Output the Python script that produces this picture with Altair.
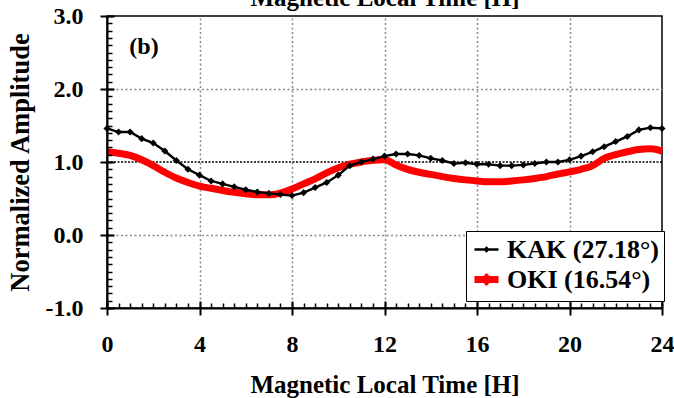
import altair as alt
import pandas as pd

FONT = "Liberation Serif"
KAK_LABEL = "KAK (27.18°)"
OKI_LABEL = "OKI (16.54°)"

hours = [0, 0.5, 1, 1.5, 2, 2.5, 3, 3.5, 4, 4.5, 5, 5.5, 6, 6.5, 7, 7.5, 8, 8.5,
         9, 9.5, 10, 10.5, 11, 11.5, 12, 12.5, 13, 13.5, 14, 14.5, 15, 15.5, 16,
         16.5, 17, 17.5, 18, 18.5, 19, 19.5, 20, 20.5, 21, 21.5, 22, 22.5, 23,
         23.5, 24]

kak = [1.46, 1.41, 1.41, 1.32, 1.26, 1.15, 1.02, 0.90, 0.82, 0.74, 0.70, 0.66,
       0.62, 0.59, 0.57, 0.555, 0.54, 0.58, 0.65, 0.72, 0.82, 0.95, 1.00, 1.04,
       1.08, 1.11, 1.11, 1.09, 1.05, 1.02, 0.98, 0.99, 0.97, 0.97, 0.95, 0.95,
       0.96, 0.98, 1.00, 1.00, 1.03, 1.08, 1.14, 1.21, 1.28, 1.35, 1.44, 1.47,
       1.46]

oki = [1.14, 1.12, 1.09, 1.03, 0.95, 0.86, 0.78, 0.72, 0.67, 0.64, 0.61, 0.585,
       0.565, 0.55, 0.55, 0.575, 0.63, 0.70, 0.77, 0.85, 0.92, 0.97, 1.00, 1.025,
       1.03, 0.96, 0.90, 0.86, 0.83, 0.80, 0.775, 0.755, 0.74, 0.73, 0.73, 0.74,
       0.755, 0.775, 0.80, 0.835, 0.865, 0.90, 0.95, 1.05, 1.10, 1.14, 1.17, 1.18,
       1.15]

x_major = [0, 4, 8, 12, 16, 20, 24]
x_grid = [4, 8, 12, 16, 20]
y_major = [-1, 0, 1, 2, 3]
y_grid = [0, 2]
ref_level = [1.0]
panel_label = ["(b)"]
panel_label_x = [1.6]
panel_label_y = [2.58]

x_minor = [i * 0.5 for i in range(49)]
y_minor = [round(-1 + i * 0.1, 1) for i in range(41)]

df_kak = pd.DataFrame({"mlt": hours, "amp": kak, "series": KAK_LABEL})
df_oki = pd.DataFrame({"mlt": hours, "amp": oki, "series": OKI_LABEL})
df_ref = pd.DataFrame({"y": ref_level})
df_lab = pd.DataFrame({"x": panel_label_x, "y": panel_label_y, "t": panel_label})

W, H = 555, 292

x_scale = alt.Scale(domain=[0, 24], nice=False, zero=False)
y_scale = alt.Scale(domain=[-1, 3], nice=False, zero=False)

legend = alt.Legend(
    title=None, orient="none", legendX=359, legendY=215, direction="vertical",
    labelFont=FONT, labelFontWeight=700, labelFontSize=26, labelColor="black",
    labelOffset=5, labelLimit=400, symbolSize=576, padding=5, rowPadding=0,
    strokeColor="black", fillColor="white", symbolOpacity=1,
    symbolType="M-1,0H1M0,-0.13L0.13,0L0,0.13L-0.13,0Z",
)

series_domain = [KAK_LABEL, OKI_LABEL]
color_enc = alt.Color(
    "series:N",
    scale=alt.Scale(domain=series_domain, range=["#000000", "#ff0000"]),
    legend=legend,
)
width_enc = alt.StrokeWidth(
    "series:N",
    scale=alt.Scale(domain=series_domain, range=[2.4, 7]),
    legend=legend,
)

x_axis_main = alt.Axis(
    orient="bottom", values=x_major, format="d", labelPadding=24, ticks=False,
    tickSize=0, domain=True, domainWidth=2, domainColor="black", grid=False,
    labelFlush=False, labelOverlap=False, labelFontSize=24,
    title="Magnetic Local Time [H]", titleFontSize=25, titleX=W / 2, titleY=76,
    titleBaseline="middle", titleAlign="center", zindex=1,
)
y_axis_main = alt.Axis(
    orient="left", values=y_major,
    labelExpr="(datum.value < 0 ? '-' : '') + format(abs(datum.value), '.1f')",
    labelPadding=24, ticks=False, tickSize=0, domain=True, domainWidth=2,
    domainColor="black", grid=False, labelFlush=False, labelOverlap=False,
    labelFontSize=24, title="Normalized Amplitude", titleFontSize=26.5,
    titleAngle=270, titleX=-87, titleY=H / 2, titleBaseline="middle",
    titleAlign="center", zindex=1,
)
x_axis_major = alt.Axis(
    orient="bottom", values=x_major, labels=False, domain=False, grid=False,
    ticks=True, tickSize=14, tickWidth=2, tickColor="black", offset=-7,
    title=None, zindex=1,
)
y_axis_major = alt.Axis(
    orient="left", values=y_major, labels=False, domain=False, grid=False,
    ticks=True, tickSize=14, tickWidth=2, tickColor="black", offset=-7,
    title=None, zindex=1,
)
x_axis_minor = alt.Axis(
    orient="bottom", values=x_minor, labels=False, domain=False, grid=False,
    ticks=True, tickSize=5, tickWidth=1.5, tickColor="black", offset=-5,
    title=None, zindex=1,
)
y_axis_minor = alt.Axis(
    orient="left", values=y_minor, labels=False, domain=False, grid=False,
    ticks=True, tickSize=5, tickWidth=1.5, tickColor="black", offset=-5,
    title=None, zindex=1,
)
x_axis_grid = alt.Axis(
    orient="top", values=x_grid, labels=False, ticks=False, domain=False,
    grid=True, gridColor="#8a8a8a", gridDash=[2, 2.5], gridWidth=1.5,
    title="Magnetic Local Time [H]", titleFontSize=25, titleX=W / 2, titleY=-11,
    titleBaseline="alphabetic", titleAlign="center",
)
y_axis_grid = alt.Axis(
    orient="left", values=y_grid, labels=False, ticks=False, domain=False,
    grid=True, gridColor="#8a8a8a", gridDash=[2, 2.5], gridWidth=1.5, title=None,
)

ref_layer = alt.Chart(df_ref).mark_rule(
    color="black", strokeDash=[2, 1.5], strokeWidth=1.5
).encode(y=alt.Y("y:Q", scale=y_scale, axis=None))

oki_layer = alt.Chart(df_oki).mark_line(interpolate="monotone").encode(
    x=alt.X("mlt:Q", scale=x_scale, axis=x_axis_main),
    y=alt.Y("amp:Q", scale=y_scale, axis=y_axis_main),
    color=color_enc,
    strokeWidth=width_enc,
)

kak_line = alt.Chart(df_kak).mark_line().encode(
    x=alt.X("mlt:Q", scale=x_scale, axis=x_axis_major),
    y=alt.Y("amp:Q", scale=y_scale, axis=y_axis_major),
    color=color_enc,
    strokeWidth=width_enc,
)

kak_pts = alt.Chart(df_kak).mark_point(
    shape="diamond", filled=True, size=50, opacity=1
).encode(
    x=alt.X("mlt:Q", scale=x_scale, axis=x_axis_minor),
    y=alt.Y("amp:Q", scale=y_scale, axis=y_axis_minor),
    color=alt.Color("series:N",
                    scale=alt.Scale(domain=series_domain, range=["#000000", "#ff0000"]),
                    legend=None),
)

label_layer = alt.Chart(df_lab).mark_text(
    font=FONT, fontWeight="bold", fontSize=24, align="center",
    baseline="middle", color="black"
).encode(
    x=alt.X("x:Q", scale=x_scale, axis=x_axis_grid),
    y=alt.Y("y:Q", scale=y_scale, axis=y_axis_grid),
    text="t:N",
)

chart = alt.layer(
    ref_layer, oki_layer, kak_line, kak_pts, label_layer
).resolve_axis(
    x="independent", y="independent"
).properties(
    width=W, height=H, autosize="none",
    padding={"left": 107, "top": 16, "right": 12, "bottom": 90},
    background="white",
).configure_view(
    stroke="black", strokeWidth=1.5
).configure_axis(
    labelFont=FONT, labelFontWeight="bold", labelColor="black",
    titleFont=FONT, titleFontWeight="bold", titleColor="black",
).configure_legend(
    labelFont=FONT, labelFontWeight=700, labelFontSize=26, labelColor="black",
)

chart.save("out.html", embed_options={"renderer": "svg", "actions": False})
